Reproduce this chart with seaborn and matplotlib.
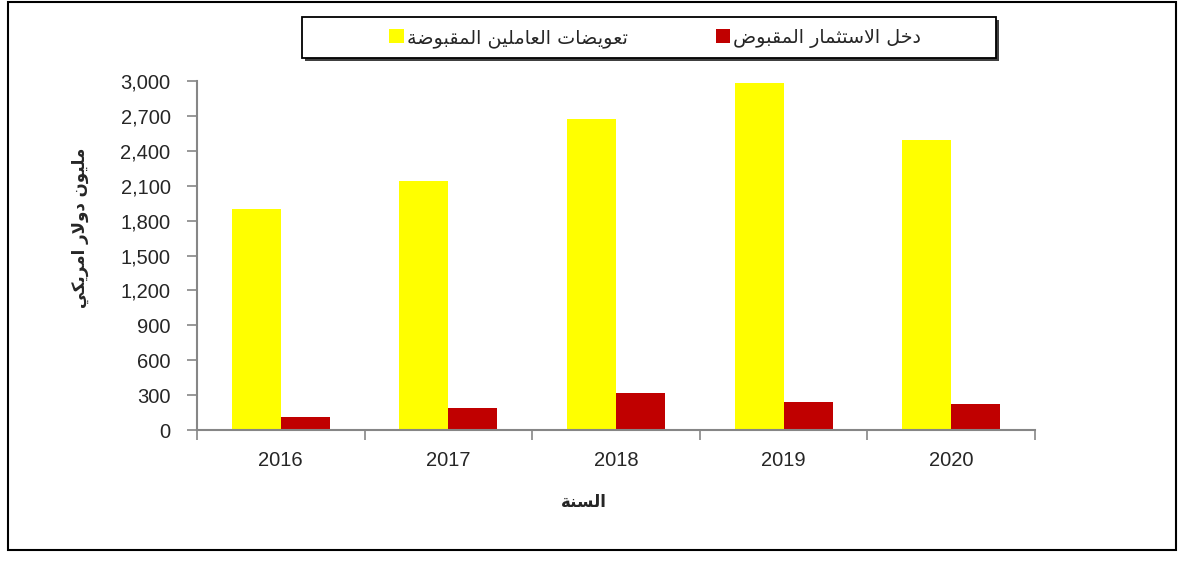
import pandas as pd
import seaborn as sns
import matplotlib.pyplot as plt
from matplotlib.patches import Rectangle, Patch
from matplotlib.ticker import FuncFormatter, FixedLocator

# data
years = ["2016", "2017", "2018", "2019", "2020"]
comp_employees = [1900, 2140, 2675, 2980, 2490]
invest_income = [115, 190, 320, 240, 220]

series_names = ["تعويضات العاملين المقبوضة", "دخل الاستثمار المقبوض"]
colors = ["#FFFF00", "#C00000"]
y_label = "مليون دولار امريكي"
x_label = "السنة"
y_ticks = [0, 300, 600, 900, 1200, 1500, 1800, 2100, 2400, 2700, 3000]

# matplotlib has no arabic shaping -> small reshaper to presentation forms
AR_FORMS = {
    "ا": (0xFE8D, 2), "ب": (0xFE8F, 4), "ة": (0xFE93, 2), "ت": (0xFE95, 4),
    "ث": (0xFE99, 4), "خ": (0xFEA5, 4), "د": (0xFEA9, 2), "ر": (0xFEAD, 2),
    "س": (0xFEB1, 4), "ض": (0xFEBD, 4), "ع": (0xFEC9, 4), "ق": (0xFED5, 4),
    "ك": (0xFED9, 4), "ل": (0xFEDD, 4), "م": (0xFEE1, 4), "ن": (0xFEE5, 4),
    "و": (0xFEED, 2), "ي": (0xFEF1, 4),
}


def shape_ar(text):
    chars = []
    i = 0
    while i < len(text):
        if text[i] == "ل" and i + 1 < len(text) and text[i + 1] == "ا":
            chars.append("LA")
            i += 2
        else:
            chars.append(text[i])
            i += 1
    out = []
    for k, c in enumerate(chars):
        prev = chars[k - 1] if k > 0 else None
        nxt = chars[k + 1] if k + 1 < len(chars) else None
        jp = prev in AR_FORMS and AR_FORMS[prev][1] == 4
        if c == "LA":
            out.append("\ufefc" if jp else "\ufefb")
            continue
        if c not in AR_FORMS:
            out.append(c)
            continue
        base, n = AR_FORMS[c]
        jn = n == 4 and (nxt in AR_FORMS or nxt == "LA")
        if jp and jn:
            out.append(chr(base + 3))
        elif jp:
            out.append(chr(base + 1))
        elif jn:
            out.append(chr(base + 2))
        else:
            out.append(chr(base))
    return "".join(reversed(out))


df = pd.DataFrame({
    "year": years * 2,
    "value": comp_employees + invest_income,
    "series": [series_names[0]] * len(years) + [series_names[1]] * len(years),
})

sns.set_theme(style="white")
plt.rcParams["font.family"] = ["Liberation Sans", "DejaVu Sans"]

W, H = 1184, 563
fig = plt.figure(figsize=(W / 100, H / 100), dpi=100)
ax = fig.add_axes([197 / W, 1 - 430 / H, (1035 - 197) / W, (430 - 81) / H])

sns.barplot(data=df, x="year", y="value", hue="series", palette=colors,
            width=0.585, saturation=1, legend=False, ax=ax, linewidth=0)

grey = "#868686"
ax.set_ylim(0, 3000)
ax.set_xlim(-0.5, len(years) - 0.5)
ax.set_yticks(y_ticks)
ax.yaxis.set_major_formatter(FuncFormatter(lambda v, p: f"{int(v):,}"))
ax.tick_params(axis="y", direction="out", length=7, width=1.2, color=grey,
               pad=12, labelsize=14.5, left=True)
ax.tick_params(axis="x", which="major", length=0, pad=15, labelsize=14.5)
ax.xaxis.set_minor_locator(FixedLocator([i - 0.5 for i in range(len(years) + 1)]))
ax.tick_params(axis="x", which="minor", direction="out", length=7, width=1.2,
               color=grey, bottom=True)
for s in ["top", "right"]:
    ax.spines[s].set_visible(False)
for s in ["left", "bottom"]:
    ax.spines[s].set_color(grey)
    ax.spines[s].set_linewidth(1.5)

ax.set_xlabel("")
ax.set_ylabel("")
fig.text(80 / W, 1 - 228 / H, shape_ar(y_label), rotation=90, ha="center",
         va="center", fontsize=12, fontweight="bold", family="DejaVu Sans")
fig.text(584 / W, 1 - 502 / H, shape_ar(x_label), ha="center", va="center",
         fontsize=12, fontweight="bold", family="DejaVu Sans")

# legend box with shadow
fig.patches.append(Rectangle((305 / W, 1 - 61 / H), (996 - 302) / W, (58 - 17) / H,
                             transform=fig.transFigure, facecolor="#404040",
                             edgecolor="none", zorder=0))
fig.patches.append(Rectangle((302 / W, 1 - 58 / H), (996 - 302) / W, (58 - 17) / H,
                             transform=fig.transFigure, facecolor="white",
                             edgecolor="black", linewidth=1.3, zorder=1))
handles = [Patch(facecolor=c, edgecolor="none") for c in colors]
labels = [shape_ar(n) for n in series_names]
leg = fig.legend(handles, labels, loc="center", bbox_to_anchor=(655 / W, 1 - 38 / H),
                 ncol=2, frameon=False, handlelength=0.75, handleheight=0.75,
                 handletextpad=0.15, columnspacing=4.6,
                 prop={"family": "DejaVu Sans", "size": 13.8})
leg.set_zorder(5)

# outer frame
fig.patches.append(Rectangle((8 / W, 1 - 550 / H), (1176 - 8) / W, (550 - 2) / H,
                             transform=fig.transFigure, facecolor="none",
                             edgecolor="black", linewidth=1.5, zorder=2))

fig.savefig("out.png", dpi=100)
